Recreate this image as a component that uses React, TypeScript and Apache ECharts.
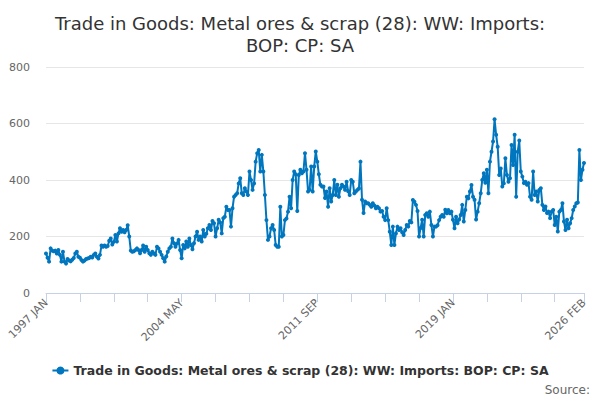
import { useEffect, useRef } from 'react';
import * as echarts from 'echarts';

const TITLE = 'Trade in Goods: Metal ores & scrap (28): WW: Imports:\nBOP: CP: SA';
const SERIES_NAME = 'Trade in Goods: Metal ores & scrap (28): WW: Imports: BOP: CP: SA';
const MONTHS = ['JAN', 'FEB', 'MAR', 'APR', 'MAY', 'JUN', 'JUL', 'AUG', 'SEP', 'OCT', 'NOV', 'DEC'];
const START_YEAR = 1997;

// Monthly values, one row per year
const values: number[] = [
  140, 125, 111, 158, 150, 148, 150, 140, 152, 135, 111, 146, // 1997
  111, 104, 120, 115, 112, 118, 124, 140, 146, 128, 125, 117, // 1998
  111, 115, 120, 122, 124, 128, 126, 135, 140, 128, 122, 135, // 1999
  168, 164, 168, 164, 166, 185, 193, 172, 181, 205, 182, 211, // 2000
  229, 217, 223, 215, 223, 240, 200, 150, 146, 148, 152, 158, // 2001
  152, 141, 152, 168, 146, 164, 152, 141, 135, 146, 140, 135, // 2002
  164, 158, 146, 135, 123, 111, 129, 146, 158, 164, 193, 176, // 2003
  164, 175, 188, 152, 123, 170, 158, 182, 164, 193, 170, 155, // 2004
  176, 200, 217, 188, 200, 182, 223, 200, 210, 229, 241, 223, // 2005
  255, 247, 200, 229, 259, 250, 211, 265, 270, 305, 294, 294, // 2006
  235, 300, 341, 347, 353, 388, 406, 353, 347, 371, 359, 347, // 2007
  430, 400, 365, 388, 465, 495, 506, 430, 489, 430, 347, 258, // 2008
  188, 200, 229, 241, 223, 170, 164, 164, 305, 200, 205, 258, // 2009
  264, 288, 341, 300, 400, 430, 420, 290, 418, 436, 424, 430, // 2010
  495, 436, 359, 365, 448, 359, 448, 501, 465, 420, 383, 377, // 2011
  377, 336, 359, 305, 371, 324, 347, 400, 347, 383, 341, 371, // 2012
  383, 377, 365, 394, 360, 347, 400, 394, 353, 359, 365, 370, // 2013
  465, 330, 283, 324, 318, 318, 312, 305, 318, 310, 300, 305, // 2014
  300, 288, 290, 270, 258, 300, 258, 217, 170, 235, 170, 211, // 2015
  235, 223, 229, 215, 205, 223, 241, 235, 255, 250, 329, 323, // 2016
  312, 290, 200, 230, 259, 200, 276, 282, 270, 288, 241, 200, // 2017
  235, 235, 240, 258, 270, 276, 270, 295, 282, 294, 282, 288, // 2018
  259, 229, 270, 247, 260, 276, 312, 253, 294, 341, 335, 359, // 2019
  382, 341, 330, 260, 288, 318, 353, 400, 424, 390, 436, 353, // 2020
  465, 500, 536, 615, 560, 518, 418, 441, 377, 388, 477, 418, // 2021
  394, 406, 524, 453, 560, 341, 500, 540, 430, 412, 389, 394, // 2022
  383, 389, 341, 330, 430, 347, 359, 324, 365, 371, 312, 294, // 2023
  306, 283, 288, 265, 288, 294, 241, 270, 218, 288, 294, 318, // 2024
  253, 223, 259, 229, 247, 265, 294, 306, 318, 320, 506, 400, // 2025
  436, 460, // 2026
];

const categories: string[] = values.map(
  (_, i) => `${START_YEAR + Math.floor(i / 12)} ${MONTHS[i % 12]}`,
);

const Y_TICKS = { min: 0, max: 800, interval: 200 };
const TICK_EVERY = 22;
const LABEL_EVERY = 88;

const LINE_COLOR = '#0076be';
const AXIS_COLOR = '#c6d1e6';
const FONT = 'DejaVu Sans';

export default function App() {
  const ref = useRef<HTMLDivElement>(null);

  useEffect(() => {
    document.body.style.margin = '0';
    if (!ref.current) return;
    const chart = echarts.init(ref.current, null, { renderer: 'svg' });
    const last = categories.length - 1;

    chart.setOption({
      animation: false,
      textStyle: { fontFamily: FONT },
      title: {
        text: TITLE,
        left: 'center',
        top: 7,
        textStyle: { fontSize: 18, fontWeight: 'normal', color: '#333333', lineHeight: 22, fontFamily: FONT },
      },
      grid: { left: 46, right: 16, top: 67, bottom: 107 },
      legend: {
        bottom: 18,
        left: 'center',
        itemWidth: 16,
        itemHeight: 10,
        textStyle: { fontSize: 12.5, fontWeight: 'bold', color: '#333333', fontFamily: FONT },
        data: [SERIES_NAME],
      },
      graphic: [
        {
          type: 'text',
          right: 10,
          bottom: 4,
          style: { text: 'Source:', fill: '#666666', font: `12px "${FONT}"` },
        },
      ],
      xAxis: {
        type: 'category',
        data: categories,
        boundaryGap: false,
        axisLine: { show: true, lineStyle: { color: AXIS_COLOR } },
        axisTick: {
          show: true,
          length: 9,
          lineStyle: { color: AXIS_COLOR, width: 1 },
          interval: (idx: number) => idx % TICK_EVERY === 0 || idx === last,
        },
        axisLabel: {
          rotate: 45,
          color: '#666666',
          fontSize: 11,
          margin: 8,
          interval: (idx: number) => idx % LABEL_EVERY === 0 || idx === last,
        },
        splitLine: { show: false },
      },
      yAxis: {
        type: 'value',
        min: Y_TICKS.min,
        max: Y_TICKS.max,
        interval: Y_TICKS.interval,
        axisLine: { show: false },
        axisTick: { show: false },
        axisLabel: { color: '#666666', fontSize: 11, margin: 16 },
        splitLine: { lineStyle: { color: '#e6e6e6' } },
      },
      series: [
        {
          name: SERIES_NAME,
          type: 'line',
          data: values,
          symbol: 'circle',
          symbolSize: 4,
          showAllSymbol: true,
          lineStyle: { color: LINE_COLOR, width: 2 },
          itemStyle: { color: LINE_COLOR },
        },
      ],
    });

    return () => chart.dispose();
  }, []);

  return <div ref={ref} style={{ width: 600, height: 400 }} />;
}
